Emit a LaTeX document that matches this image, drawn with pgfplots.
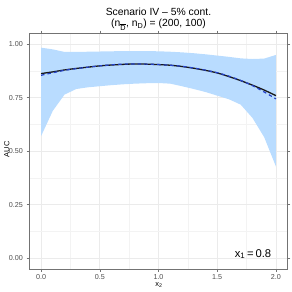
\documentclass[border=0pt]{standalone}
\usepackage{fontspec}
\setmainfont{Liberation Sans}
\usepackage{pgfplots}
\pgfplotsset{compat=1.18}
\definecolor{ribbon}{RGB}{185,220,255}
\definecolor{dashblue}{RGB}{35,65,200}
\definecolor{gridc}{RGB}{235,235,235}
\definecolor{tickc}{RGB}{77,77,77}
\begin{document}
\begin{tikzpicture}[x=1bp,y=1bp]
\path[use as bounding box] (-29.3bp,-23bp) rectangle (262.7bp,269bp);
\begin{axis}[
  at={(0,0)}, anchor=south west,
  scale only axis, width=258.4bp, height=235.7bp,
  xmin=-0.1, xmax=2.1, ymin=-0.05, ymax=1.05,
  xtick={0,0.5,1,1.5,2},
  xticklabels={0.0,0.5,1.0,1.5,2.0},
  ytick={0,0.25,0.5,0.75,1},
  yticklabels={0.00,0.25,0.50,0.75,1.00},
  minor xtick={0.25,0.75,1.25,1.75},
  minor ytick={0.125,0.375,0.625,0.875},
  grid=both,
  major grid style={draw=gridc, line width=0.7bp},
  minor grid style={draw=gridc!60!white, line width=0.4bp},
  axis line style={draw=black!55, line width=0.6bp},
  tick style={draw=black!55, line width=0.5bp},
  tick align=outside,
  major tick length=2.7bp,
  minor tick length=0pt,
  ticklabel style={font=\fontsize{7.2}{8}\selectfont, text=tickc},
  yticklabel style={xshift=-0.3bp},
  xticklabel style={yshift=0.8bp},
  /pgf/number format/assume math mode=true,
  clip=true,
]
\addplot[fill=ribbon, draw=none] coordinates {
(0,0.983) (0.1,0.975) (0.2,0.963) (0.3,0.963) (0.4,0.964) (0.5,0.965) (0.6,0.966) (0.7,0.967) (0.8,0.967) (0.9,0.967) (1.0,0.966) (1.1,0.964) (1.2,0.961) (1.3,0.957) (1.4,0.952) (1.5,0.946) (1.6,0.940) (1.7,0.933) (1.8,0.930) (1.9,0.932) (2.0,0.949)
(2.0,0.428) (1.9,0.565) (1.8,0.655) (1.7,0.717) (1.6,0.742) (1.5,0.759) (1.4,0.776) (1.3,0.790) (1.2,0.803) (1.1,0.815) (1.0,0.818) (0.9,0.817) (0.8,0.815) (0.7,0.812) (0.6,0.808) (0.5,0.803) (0.4,0.798) (0.3,0.790) (0.2,0.764) (0.1,0.688) (0,0.570)
} -- cycle;
\addplot[black!90, line width=1.3bp, smooth] coordinates {
(0,0.862) (0.1,0.870) (0.2,0.879) (0.3,0.886) (0.4,0.892) (0.5,0.898) (0.6,0.902) (0.7,0.905) (0.8,0.907) (0.9,0.906) (1.0,0.904) (1.1,0.901) (1.2,0.895) (1.3,0.887) (1.4,0.877) (1.5,0.865) (1.6,0.848) (1.7,0.829) (1.8,0.808) (1.9,0.785) (2.0,0.759)
};
\addplot[dashblue, line width=1.2bp, dash pattern=on 3.5bp off 3bp, smooth] coordinates {
(0,0.854) (0.1,0.866) (0.2,0.877) (0.3,0.885) (0.4,0.892) (0.5,0.898) (0.6,0.903) (0.7,0.906) (0.8,0.907) (0.9,0.906) (1.0,0.904) (1.1,0.901) (1.2,0.896) (1.3,0.888) (1.4,0.878) (1.5,0.866) (1.6,0.850) (1.7,0.830) (1.8,0.806) (1.9,0.776) (2.0,0.744)
};
\end{axis}
\node[font=\fontsize{10.4}{12}\selectfont] at (129.2bp,257.5bp) {Scenario IV – 5\% cont.};
\node[font=\fontsize{10.4}{12}\selectfont] at (129.2bp,244bp) {(n\textsubscript{\mbox{$\overline{\mbox{D}}$}}, n\textsubscript{D}) = (200, 100)};
\node[font=\fontsize{11.3}{13}\selectfont] at (223.7bp,15bp) {x\textsubscript{1}\,=\,0.8};
\node[font=\fontsize{7.5}{8}\selectfont, inner sep=0pt] at (129.7bp,-15.8bp) {x\textsubscript{2}};
\node[font=\fontsize{7.5}{8}\selectfont, rotate=90, inner sep=0pt] at (-22.6bp,119.7bp) {AUC};
\end{tikzpicture}
\end{document}
